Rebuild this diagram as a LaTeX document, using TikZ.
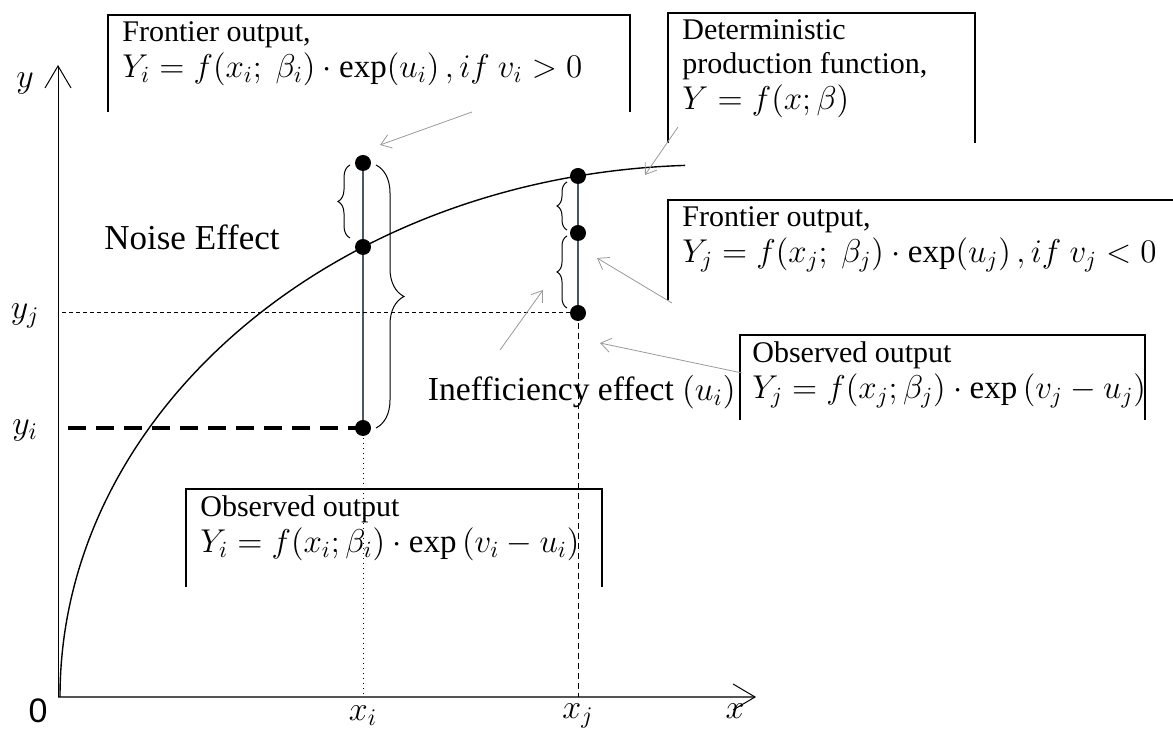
\documentclass[tikz,border=0pt]{standalone}
\usepackage{fix-cm}
\usepackage{fontspec}
\setmainfont{Liberation Serif}
\newfontfamily\axisfont{Liberation Sans}
\usepackage{tikz}
\usetikzlibrary{arrows.meta,decorations.pathreplacing}
\definecolor{slate}{HTML}{4A5866}
\definecolor{axgray}{HTML}{555555}
\definecolor{ptgray}{HTML}{9A9A9A}
\newcommand{\eqsize}{\fontsize{16.5}{18}\selectfont}
\tikzset{
  lbl/.style={font=\fontsize{15}{17}\selectfont, align=left, inner sep=0pt},
  axlbl/.style={font=\fontsize{17}{20}\selectfont, inner sep=0pt},
  openbox/.style={draw=black, line width=1.2pt},
  pointer/.style={-{Straight Barb[length=5pt,width=7pt]}, draw=ptgray, line width=0.4pt},
  dotpt/.style={circle, fill=black, inner sep=0pt, minimum size=8pt},
  brc/.style={decorate, decoration={brace, amplitude=#1}, line width=0.5pt},
  brc/.default=6pt,
  vline/.style={draw=slate, line width=0.6pt},
  axtip/.style={-{Straight Barb[length=11pt,width=13pt,color=black,line width=0.5pt]}},
}
\begin{document}
\begin{tikzpicture}[x=0.5pt, y=0.5pt]
\useasboundingbox (0,0) rectangle (1173,733);

% axes
\coordinate (O) at (58,36);
\coordinate (xend) at (756,36);
\coordinate (yend) at (58,668);
\draw[axtip, draw=axgray, line width=1pt] (O) -- (xend);
\draw[axtip, line width=0.5pt] (O) -- (yend);
\node[axlbl] (ylab) at (25,650) {$y$};
\node[axlbl] (zero) at (38,22) {\axisfont 0};
\node[axlbl] (xilab) at (363,17) {$x_i$};
\node[axlbl] (xjlab) at (578,17) {$x_j$};
\node[axlbl] (xlab) at (735,22) {$x$};
\node[axlbl] (yjlab) at (25,417) {$y_j$};
\node[axlbl] (yilab) at (25,303) {$y_i$};

% production frontier
\draw[line width=0.7pt] (60,36) arc[start angle=180, end angle=92.2, x radius=650, y radius=532];

% points on the two verticals
\coordinate (iTop) at (363,570);
\coordinate (iMid) at (363,486);
\coordinate (iObs) at (363,305);
\coordinate (jTop) at (578,557);
\coordinate (jMid) at (578,500);
\coordinate (jObs) at (578,420);
\coordinate (xiFoot) at (363,36);
\coordinate (xjFoot) at (578,36);
\coordinate (yjStart) at (62,420);
\coordinate (yiStart) at (68,305);

\draw[vline] (iTop) -- (iObs);
\draw[vline] (jTop) -- (jObs);
\draw[dotted, line width=0.5pt] (iObs) -- (xiFoot);
\draw[dash pattern=on 3pt off 2pt, line width=0.5pt] (jObs) -- (xjFoot);
\draw[dash pattern=on 2pt off 1.5pt, line width=0.5pt] (yjStart) -- (jObs);
\draw[dash pattern=on 9pt off 5pt, line width=2pt] (yiStart) -- (iObs);

\foreach \p in {iTop,iMid,iObs,jTop,jMid,jObs}
  \node[dotpt] at (\p) {};

% braces
\draw[brc=6pt] (350,495) -- (350,568);
\draw[brc=14pt] (376,568) -- (376,305);
\draw[brc=5pt] (567,503) -- (567,551);
\draw[brc=5pt] (567,425) -- (567,497);

% free labels
\node[lbl, font=\fontsize{17.5}{19}\selectfont] (noise) at (192,496) {Noise Effect};
\node[lbl, font=\fontsize{16.8}{18}\selectfont, anchor=east] (ineff) at (736,341)
  {Inefficiency effect $(u_i)$};

% callout boxes
\draw[openbox] (108,621) |- (630,718) -- (630,621);
\node[lbl, anchor=north west] (frontI) at (122,712)
  {Frontier output,\\[1pt]{\eqsize$Y_i = f(x_i;\ \beta_i)\cdot\exp(u_i)\,,if\ v_i > 0$}};

\draw[openbox] (668,590) |- (975,720) -- (975,590);
\node[lbl, anchor=north west] (detProd) at (682,714)
  {Deterministic\\production function,\\[1pt]{\eqsize$Y = f(x;\beta)$}};

\draw[openbox] (668,433) |- (1173,533);
\node[lbl, anchor=north west] (frontJ) at (682,527)
  {Frontier output,\\[1pt]{\eqsize$Y_j = f\bigl(x_j;\ \beta_j\bigr)\cdot\exp\bigl(u_j\bigr)\,,if\ v_j < 0$}};

\draw[openbox] (740,313) |- (1145,398) -- (1145,313);
\node[lbl, anchor=north west] (obsJ) at (752,392)
  {Observed output\\[1pt]{\eqsize$Y_j = f(x_j;\beta_j)\cdot\exp\,(v_j - u_j)$}};

\draw[openbox] (186,146) |- (602,244) -- (602,146);
\node[lbl, anchor=north west] (obsI) at (200,238)
  {Observed output\\[1pt]{\eqsize$Y_i = f(x_i;\beta_i)\cdot\exp\,(v_i - u_i)$}};

% pointers
\coordinate (a1s) at (472,621);  \coordinate (a1e) at (380,588);
\coordinate (a2s) at (678,606);  \coordinate (a2e) at (645,558);
\coordinate (a3s) at (672,430);  \coordinate (a3e) at (597,475);
\coordinate (a4s) at (500,383);  \coordinate (a4e) at (543,443);
\coordinate (a5s) at (742,360);  \coordinate (a5e) at (600,390);
\draw[pointer] (a1s) -- (a1e);
\draw[pointer] (a2s) -- (a2e);
\draw[pointer] (a3s) -- (a3e);
\draw[pointer] (a4s) -- (a4e);
\draw[pointer] (a5s) -- (a5e);
\end{tikzpicture}
\end{document}
